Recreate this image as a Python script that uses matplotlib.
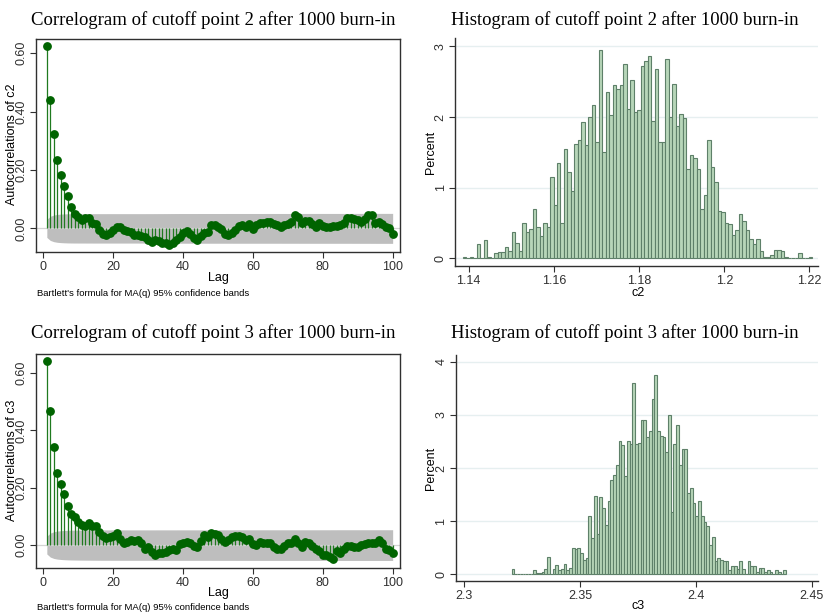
import numpy as np
import matplotlib
matplotlib.use("Agg")
import matplotlib.pyplot as plt

# ---------------- data ----------------
n_draws = 4000
lags = np.arange(1, 101)

acf_c2 = [0.625, 0.440, 0.323, 0.234, 0.182, 0.145, 0.110, 0.074, 0.048, 0.038,
          0.029, 0.034, 0.037, 0.019, 0.014, -0.006, -0.019, -0.023, -0.017, -0.006,
          0.006, 0.003, -0.006, -0.009, -0.011, -0.022, -0.023, -0.026, -0.029, -0.040,
          -0.046, -0.040, -0.042, -0.049, -0.051, -0.057, -0.049, -0.040, -0.029, -0.015,
          -0.009, -0.019, -0.034, -0.040, -0.026, -0.015, -0.011, 0.011, 0.011, 0.006,
          -0.003, -0.019, -0.022, -0.017, -0.006, 0.008, 0.011, 0.006, 0.014, -0.003,
          0.011, 0.017, 0.017, 0.021, 0.021, 0.015, 0.011, 0.003, 0.011, 0.015,
          0.023, 0.046, 0.040, 0.019, 0.026, 0.025, 0.015, 0.006, 0.017, 0.008,
          0.006, 0.006, 0.008, 0.008, 0.011, 0.017, 0.037, 0.037, 0.031, 0.029,
          0.023, 0.031, 0.045, 0.045, 0.019, 0.021, 0.014, 0.006, 0.000, -0.021]

acf_c3 = [0.641, 0.467, 0.344, 0.253, 0.213, 0.179, 0.136, 0.108, 0.099, 0.082,
          0.070, 0.068, 0.076, 0.068, 0.068, 0.047, 0.031, 0.024, 0.029, 0.033,
          0.041, 0.020, 0.006, 0.012, 0.017, 0.013, 0.017, 0.008, -0.012, -0.006,
          -0.023, -0.033, -0.029, -0.027, -0.023, -0.017, -0.012, -0.017, 0.003, 0.009,
          0.012, 0.006, -0.002, -0.006, 0.014, 0.035, 0.029, 0.041, 0.037, 0.035,
          0.023, 0.012, 0.017, 0.029, 0.031, 0.033, 0.029, 0.017, 0.021, 0.003,
          0.001, 0.012, 0.006, 0.009, 0.009, -0.006, -0.012, -0.015, -0.002, 0.006,
          0.008, 0.023, 0.009, -0.006, 0.012, 0.009, -0.002, -0.012, -0.021, -0.035,
          -0.035, -0.041, -0.047, -0.020, -0.029, -0.015, -0.002, -0.003, -0.006, -0.008,
          0.000, 0.003, 0.009, 0.009, 0.009, 0.017, 0.006, -0.012, -0.017, -0.029]

# histogram of c2: 100 bins, percent per bin
c2_start, c2_width = 1.1386, 0.00082
c2_pct = [0.025, 0, 0.025, 0, 0.2, 0, 0.265, 0.02, 0, 0.07,
          0.095, 0.095, 0.16, 0.11, 0.37, 0.22, 0.1, 0.5, 0.37, 0.42,
          0.7, 0.45, 0.32, 0.5, 0.45, 1.15, 0.75, 1.35, 0.5, 1.55,
          1.22, 0.95, 1.62, 1.67, 1.93, 1.6, 2.0, 2.17, 1.65, 2.95,
          1.5, 2.35, 2.03, 2.45, 2.4, 2.45, 2.75, 2.12, 2.52, 2.07,
          2.1, 2.72, 2.8, 2.87, 1.95, 2.68, 1.65, 1.65, 2.82, 2.0,
          2.47, 1.87, 2.05, 1.98, 1.27, 1.47, 1.42, 1.26, 0.7, 0.9,
          1.67, 1.29, 1.08, 0.67, 0.65, 0.5, 0.48, 0.33, 0.4, 0.63,
          0.53, 0.4, 0.27, 0.2, 0.27, 0.1, 0.02, 0.02, 0.05, 0.12,
          0.12, 0.1, 0.02, 0, 0, 0, 0.07, 0, 0, 0.02]

# histogram of c3: 100 bins, percent per bin
c3_start, c3_width = 2.3204, 0.001185
c3_pct = [0.1, 0, 0, 0, 0, 0, 0, 0, 0.075, 0.025,
          0.025, 0.05, 0.1, 0.325, 0, 0.1, 0.175, 0.075, 0.1, 0.2,
          0.075, 0.125, 0.5, 0.475, 0.5, 0.4, 0.275, 0.3, 1.1, 0.675,
          1.475, 0.75, 1.45, 1.25, 0.925, 1.375, 1.775, 1.875, 2.05, 2.5,
          2.425, 1.85, 2.5, 2.45, 3.6, 2.45, 2.475, 2.9, 2.9, 2.575,
          2.7, 3.3, 3.75, 2.7, 2.6, 2.575, 2.3, 3.0, 1.175, 2.45,
          2.8, 2.05, 2.35, 2.35, 1.525, 1.625, 1.35, 1.1, 1.375, 1.1,
          0.975, 0.9, 0.55, 0.7, 0.25, 0.3, 0.275, 0.25, 0.25, 0.075,
          0.15, 0.15, 0.1, 0.25, 0.1, 0, 0.25, 0.15, 0.15, 0.05,
          0.125, 0.125, 0.05, 0.075, 0.05, 0, 0.075, 0.05, 0, 0.075]

acf_titles = ["Correlogram of cutoff point 2 after 1000 burn-in",
              "Correlogram of cutoff point 3 after 1000 burn-in"]
hist_titles = ["Histogram of cutoff point 2 after 1000 burn-in",
               "Histogram of cutoff point 3 after 1000 burn-in"]
acf_ylabels = ["Autocorrelations of c2", "Autocorrelations of c3"]
hist_xlabels = ["c2", "c3"]
c2_xticks = [1.14, 1.16, 1.18, 1.2, 1.22]
c3_xticks = [2.3, 2.35, 2.4, 2.45]
note = "Bartlett's formula for MA(q) 95% confidence bands"

# ---------------- style ----------------
SANS = "Liberation Sans"
SERIF = "Liberation Serif"
plt.rcParams["font.family"] = SANS
GREEN = "#006400"
STEM = "#1f7a1f"
BAND = "#bebebe"
FILL = "#b7d6b9"
EDGE = "#5e8069"
GRID = "#e6eff0"
AXC = "#303030"
W, H = 825, 616
TICK_FS = 9
TITLE_FS = 13.5

fig = plt.figure(figsize=(W / 100, H / 100), dpi=100)


def frac(x0, y0, x1, y1):
    return [x0 / W, 1 - y1 / H, (x1 - x0) / W, (y1 - y0) / H]


def style_ticks(ax):
    ax.tick_params(axis="both", direction="out", length=4, width=0.8,
                   colors=AXC, labelsize=TICK_FS, pad=2.5)
    ax.tick_params(axis="y", labelrotation=90, pad=2)
    for lab in ax.get_yticklabels():
        lab.set_va("center")


def draw_acf(rect, r, ylim, ylabel, title, title_y, ylab_y, lag_y, note_y):
    ax = fig.add_axes(frac(*rect))
    r = np.asarray(r)
    # Bartlett standard errors for MA(q)
    cum = np.concatenate([[0.0], np.cumsum(r[:-1] ** 2)])
    se = np.sqrt((1 + 2 * cum) / n_draws)
    band = 1.96 * se
    ax.fill_between(lags, -band, band, color=BAND, lw=0, zorder=1)
    ax.axhline(0, color="#d4d4d4", lw=0.9, zorder=1.5)
    ax.vlines(lags, 0, r, color=STEM, lw=0.9, zorder=2)
    ax.plot(lags, r, "o", color=GREEN, ms=5.3, mec=GREEN, zorder=3)
    ax.set_xlim(-2.1, 102.1)
    ax.set_ylim(*ylim)
    ax.set_xticks(np.arange(0, 101, 20))
    ax.set_yticks([0, 0.2, 0.4, 0.6])
    ax.set_yticklabels(["0.00", "0.20", "0.40", "0.60"])
    for s in ax.spines.values():
        s.set_color(AXC)
        s.set_linewidth(1.0)
    style_ticks(ax)
    fig.text(12 / W, 1 - ylab_y / H, ylabel, rotation=90, ha="center",
             va="center", fontsize=TICK_FS, family=SANS)
    fig.text(218 / W, 1 - lag_y / H, "Lag", ha="center", va="center",
             fontsize=TICK_FS, family=SANS)
    fig.text(37 / W, 1 - note_y / H, note, ha="left", va="center",
             fontsize=6.8, family=SANS)
    fig.text(213 / W, 1 - title_y / H, title, ha="center", va="center",
             fontsize=TITLE_FS, family=SERIF)
    return ax


def draw_hist(rect, start, width, pct, xticks, yticks, xlim, ylim,
              xlabel, title, title_y, pct_y, xl_y):
    ax = fig.add_axes(frac(*rect))
    edges = start + width * np.arange(len(pct))
    for y in yticks:
        ax.axhline(y, color=GRID, lw=1.0, zorder=0)
    ax.bar(edges, pct, width=width, align="edge", color=FILL,
           edgecolor=EDGE, linewidth=0.8, zorder=2)
    ax.set_xlim(*xlim)
    ax.set_ylim(*ylim)
    ax.set_xticks(xticks)
    ax.set_xticklabels([f"{v:g}" for v in xticks])
    ax.set_yticks(yticks)
    for side in ("top", "right"):
        ax.spines[side].set_visible(False)
    for side in ("left", "bottom"):
        ax.spines[side].set_color(AXC)
        ax.spines[side].set_linewidth(1.0)
    style_ticks(ax)
    fig.text(431 / W, 1 - pct_y / H, "Percent", rotation=90, ha="center",
             va="center", fontsize=TICK_FS, family=SANS)
    fig.text(638 / W, 1 - xl_y / H, xlabel, ha="center", va="center",
             fontsize=TICK_FS, family=SANS)
    fig.text(625 / W, 1 - title_y / H, title, ha="center", va="center",
             fontsize=TITLE_FS, family=SERIF)
    return ax


draw_acf((36, 39, 400, 252), acf_c2, (-0.081, 0.649), acf_ylabels[0],
         acf_titles[0], 20, 144, 278, 293)
draw_acf((36, 354, 400, 568.3), acf_c3, (-0.081, 0.667), acf_ylabels[1],
         acf_titles[1], 333, 460, 593, 608)

draw_hist((455, 38, 818, 266), c2_start, c2_width, c2_pct, c2_xticks,
          [0, 1, 2, 3], (1.1368, 1.2220), (-0.109, 3.12), hist_xlabels[0],
          hist_titles[0], 20, 152, 293)
draw_hist((455.7, 355, 818, 580.7), c3_start, c3_width, c3_pct, c3_xticks,
          [0, 1, 2, 3, 4], (2.2963, 2.4527), (-0.12, 4.126), hist_xlabels[1],
          hist_titles[1], 333, 468, 606)

fig.savefig("out.png", dpi=100)
